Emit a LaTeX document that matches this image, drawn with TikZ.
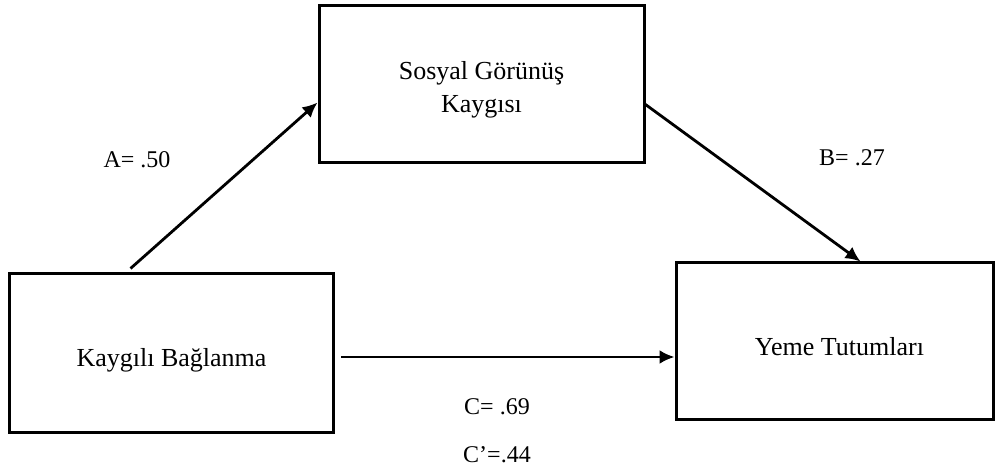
\documentclass[tikz,border=0pt]{standalone}
\usepackage{fontspec}
\setmainfont{Liberation Serif}
\usetikzlibrary{arrows.meta}
\begin{document}
\begin{tikzpicture}[x=1pt,y=-1pt,
  boxnode/.style={draw=black,line width=3pt,inner sep=0pt,align=center,
    font=\fontsize{26}{33}\selectfont},
  conn/.style={line width=2.8pt,-{Latex[length=15pt,width=14pt]}},
  lbl/.style={font=\fontsize{24}{28}\selectfont,inner sep=0pt}]
\useasboundingbox (0,0) rectangle (996,470);
\node[boxnode,minimum width=325pt,minimum height=157pt] (sg) at (481.5,84.5) {\rule{0pt}{28pt}Sosyal Görünüş\\Kaygısı};
\node[boxnode,minimum width=324pt,minimum height=158pt] (kb) at (171.5,353) {\rule{0pt}{33pt}Kaygılı Bağlanma};
\node[boxnode,minimum width=317pt,minimum height=156pt] (yt) at (834.5,341) {\hspace*{10pt}\rule{0pt}{30pt}Yeme Tutumları};
\coordinate (s1) at ([xshift=-41pt,yshift=4pt]kb.north);
\coordinate (e1) at ([yshift=-18pt]sg.west);
\coordinate (s2) at ([yshift=-20pt]sg.east);
\coordinate (e2) at ([xshift=26pt]yt.north);
\coordinate (s3) at ([xshift=6pt,yshift=-4pt]kb.east);
\coordinate (e3) at (yt.west |- s3);
\draw[conn] (s1) -- (e1);
\draw[conn] (s2) -- (e2);
\draw[conn] (s3) -- (e3);
\node[lbl] (la) at (137,160) {A= .50};
\node[lbl] (lb) at (852,158) {B= .27};
\node[lbl] (lc) at (497,407) {C= .69};
\node[lbl] (lc2) at (497,455) {C’=.44};
\end{tikzpicture}
\end{document}
